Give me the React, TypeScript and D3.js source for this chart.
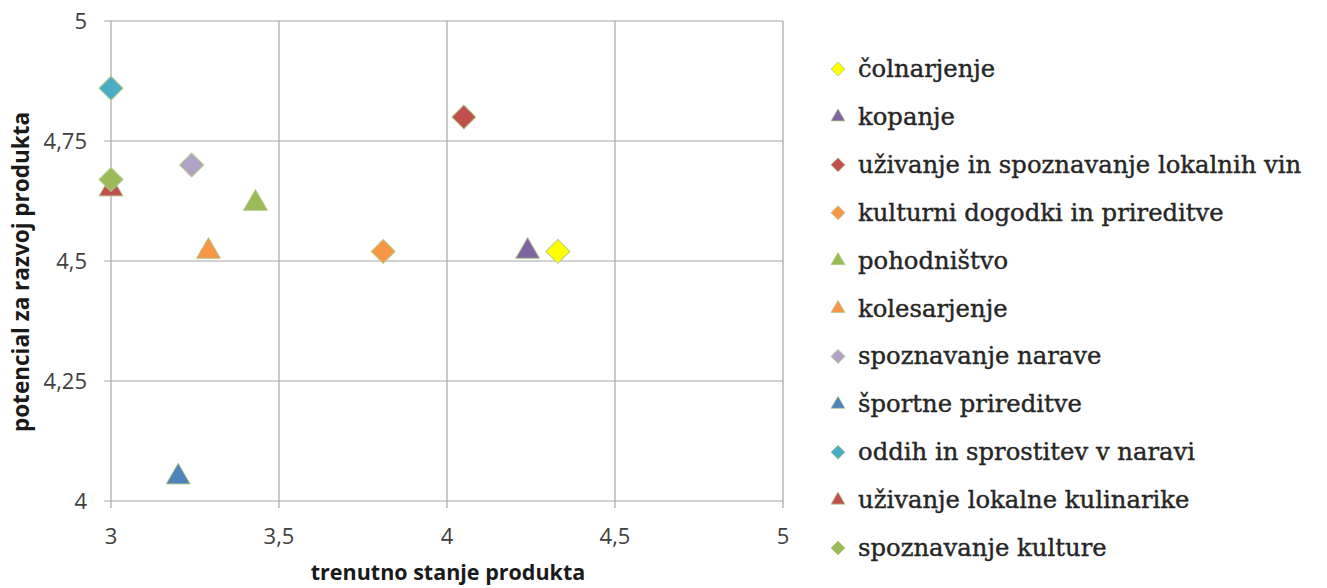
import * as React from 'react';
import * as d3 from 'd3';

const names = [
  'čolnarjenje',
  'kopanje',
  'uživanje in spoznavanje lokalnih vin',
  'kulturni dogodki in prireditve',
  'pohodništvo',
  'kolesarjenje',
  'spoznavanje narave',
  'športne prireditve',
  'oddih in sprostitev v naravi',
  'uživanje lokalne kulinarike',
  'spoznavanje kulture',
];
const xValues = [4.33, 4.24, 4.05, 3.81, 3.43, 3.29, 3.24, 3.2, 3.0, 3.0, 3.0];
const yValues = [4.52, 4.52, 4.8, 4.52, 4.62, 4.52, 4.7, 4.05, 4.86, 4.65, 4.67];
const shapes = ['diamond', 'triangle', 'diamond', 'diamond', 'triangle', 'triangle', 'diamond', 'triangle', 'diamond', 'triangle', 'diamond'];
const colours = ['#ffff00', '#8064a2', '#c0504d', '#f79646', '#9bbb59', '#f79646', '#b3a2c7', '#4f81bd', '#4bacc6', '#c0504d', '#9bbb59'];
const xTicks = [3, 3.5, 4, 4.5, 5];
const yTicks = [4, 4.25, 4.5, 4.75, 5];

const fmt = (v: number) => String(v).replace('.', ',');

const marker = (shape: string, w: number) => {
  if (shape === 'diamond') {
    const side = w / Math.SQRT2;
    return d3.symbol().type(d3.symbolSquare).size(side * side)();
  }
  return d3.symbol().type(d3.symbolTriangle).size((Math.sqrt(3) / 4) * w * w)();
};

export default function App() {
  const width = 1327;
  const height = 588;
  const x = d3.scaleLinear().domain([3, 5]).range([111, 783]);
  const y = d3.scaleLinear().domain([4, 5]).range([501, 21]);
  const axisFont = '"Open Sans", sans-serif';
  const gridCol = '#a6a6a6';

  return (
    <svg width={width} height={height} style={{ position: 'absolute', left: 0, top: 0, background: '#fff' }}>
      <g>
        {xTicks.map(t => (
          <line key={'gx' + t} x1={x(t)} x2={x(t)} y1={y(5)} y2={y(4) + 7} stroke={gridCol} strokeWidth={1.2} />
        ))}
        {yTicks.map(t => (
          <line key={'gy' + t} x1={x(3) - 7} x2={x(5)} y1={y(t)} y2={y(t)} stroke={gridCol} strokeWidth={1.2} />
        ))}
        {xTicks.map(t => (
          <text key={'tx' + t} x={x(t)} y={y(4) + 43} textAnchor="middle" fontFamily={axisFont} fontSize={22} fill="#404040">
            {fmt(t)}
          </text>
        ))}
        {yTicks.map(t => (
          <text key={'ty' + t} x={87} y={y(t) + 8} textAnchor="end" fontFamily={axisFont} fontSize={22} fill="#404040">
            {fmt(t)}
          </text>
        ))}
        <text x={448} y={580} textAnchor="middle" fontFamily={axisFont} fontSize={21.5} fontWeight="bold" fill="#1a1a1a">
          trenutno stanje produkta
        </text>
        <text transform={`translate(29,272) rotate(-90)`} textAnchor="middle" fontFamily={axisFont} fontSize={22.5} fontWeight="bold" fill="#1a1a1a">
          potencial za razvoj produkta
        </text>
      </g>
      <g>
        {names.map((n, i) => (
          <path
            key={n}
            d={marker(shapes[i], 24) as string}
            transform={`translate(${x(xValues[i])},${y(yValues[i])})${shapes[i] === 'diamond' ? ' rotate(45)' : ''}`}
            fill={colours[i]}
            stroke="#b5cc8e"
            strokeWidth={1}
          />
        ))}
      </g>
      <g>
        {names.map((n, i) => {
          const ly = 69 + i * 47.9;
          return (
            <g key={'l' + n} transform={`translate(0,${ly})`}>
              <path
                d={marker(shapes[i], 14) as string}
                transform={`translate(838,0)${shapes[i] === 'diamond' ? ' rotate(45)' : ''}`}
                fill={colours[i]}
                stroke="#b5cc8e"
                strokeWidth={0.8}
              />
              <text x={858} y={8} fontFamily='"DejaVu Serif", serif' fontSize={24.3} fill="#262626" stroke="#262626" strokeWidth={0.4}>
                {n}
              </text>
            </g>
          );
        })}
      </g>
    </svg>
  );
}
